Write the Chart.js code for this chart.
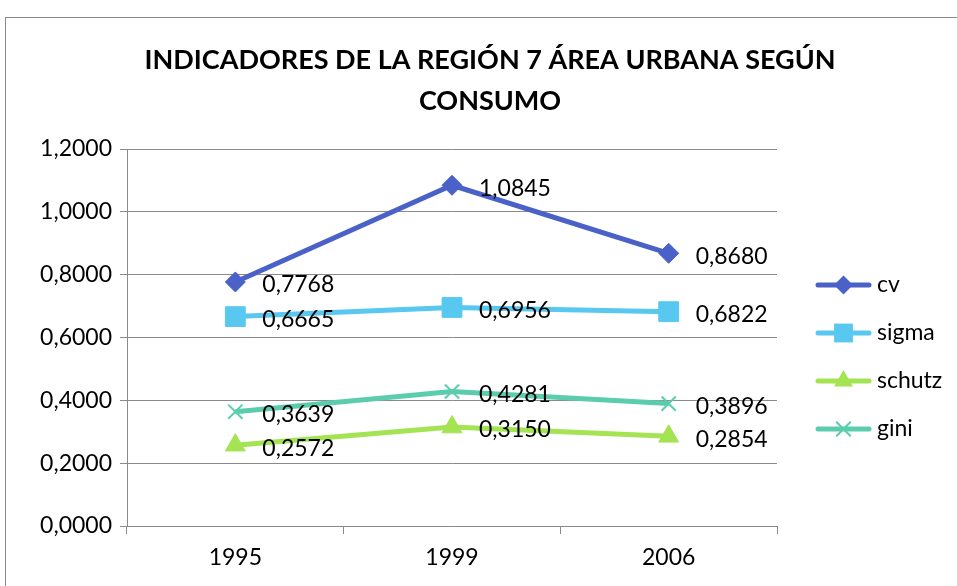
<!DOCTYPE html>
<html>
<head>
<meta charset="utf-8">
<script src="https://cdn.jsdelivr.net/npm/chart.js@4/dist/chart.umd.min.js"></script>
<style>
html,body{margin:0;padding:0;background:#fff;}
#wrap{width:957px;height:586px;position:relative;}
</style>
</head>
<body>
<div id="wrap"><canvas id="c" width="957" height="586"></canvas></div>
<script>
const categories = ['1995', '1999', '2006'];
const cv = [0.7768, 1.0845, 0.8680];
const sigma = [0.6665, 0.6956, 0.6822];
const schutz = [0.2572, 0.3150, 0.2854];
const gini = [0.3639, 0.4281, 0.3896];
const seriesNames = ['cv', 'sigma', 'schutz', 'gini'];
const titleLines = ['INDICADORES DE LA REGIÓN 7 ÁREA URBANA SEGÚN', 'CONSUMO'];

const FONT = 'Lato, "Liberation Sans", sans-serif';
const colors = ['#4A62C8', '#58C8F0', '#A4E352', '#5BCDAE'];
const styles = ['rectRot', 'rect', 'triangle', 'crossRot'];
const radii = [10, 14, 11.5, 10];

function fmt(v){ return v.toFixed(4).replace('.', ','); }

function drawMarker(ctx, style, x, y, r, color){
  ctx.save();
  ctx.fillStyle = color; ctx.strokeStyle = color; ctx.lineWidth = 2;
  ctx.beginPath();
  if (style === 'rectRot'){
    ctx.moveTo(x, y - r); ctx.lineTo(x + r, y); ctx.lineTo(x, y + r); ctx.lineTo(x - r, y); ctx.closePath(); ctx.fill();
  } else if (style === 'rect'){
    const h = r * Math.SQRT1_2; ctx.rect(x - h, y - h, 2*h, 2*h); ctx.fill();
  } else if (style === 'triangle'){
    ctx.moveTo(x, y - r); ctx.lineTo(x + r*Math.sin(Math.PI/3), y + r*0.5); ctx.lineTo(x - r*Math.sin(Math.PI/3), y + r*0.5); ctx.closePath(); ctx.fill();
  } else {
    const d = r * Math.SQRT1_2;
    ctx.moveTo(x - d, y - d); ctx.lineTo(x + d, y + d); ctx.moveTo(x + d, y - d); ctx.lineTo(x - d, y + d); ctx.stroke();
  }
  ctx.restore();
}

const deco = {
  id: 'deco',
  beforeDraw(chart){
    const ctx = chart.ctx;
    ctx.save();
    ctx.fillStyle = '#fff'; ctx.fillRect(0, 0, chart.width, chart.height);
    ctx.strokeStyle = '#8a8a8a'; ctx.lineWidth = 1;
    ctx.strokeRect(5.5, 17.5, chart.width + 10, chart.height + 10);
    ctx.fillStyle = '#000';
    ctx.font = 'bold 27px ' + FONT;
    ctx.textAlign = 'center'; ctx.textBaseline = 'middle';
    ctx.fillText(titleLines[0], 490, 60);
    ctx.fillText(titleLines[1], 490, 101);
    ctx.restore();
  },
  afterDatasetsDraw(chart){
    const ctx = chart.ctx;
    ctx.save();
    ctx.font = '23px ' + FONT;
    ctx.fillStyle = '#000'; ctx.textAlign = 'left'; ctx.textBaseline = 'middle';
    chart.data.datasets.forEach((ds, i) => {
      chart.getDatasetMeta(i).data.forEach((pt, j) => {
        ctx.fillText(fmt(ds.data[j]), pt.x + 27, pt.y + 3);
      });
    });
    // legend
    const rows = [285, 333, 381, 429];
    ctx.font = '23px ' + FONT;
    chart.data.datasets.forEach((ds, i) => {
      const y = rows[i];
      ctx.strokeStyle = colors[i]; ctx.lineWidth = 5; ctx.lineCap = 'round';
      ctx.beginPath(); ctx.moveTo(818, y); ctx.lineTo(869, y); ctx.stroke();
      drawMarker(ctx, styles[i], 843.5, y, radii[i] * 0.95, colors[i]);
      ctx.fillStyle = '#000';
      ctx.fillText(seriesNames[i], 877, y);
    });
    ctx.restore();
  }
};

const allSeries = [cv, sigma, schutz, gini];
new Chart(document.getElementById('c'), {
  type: 'line',
  data: {
    labels: categories,
    datasets: allSeries.map((d, i) => ({
      label: seriesNames[i],
      data: d,
      borderColor: colors[i],
      backgroundColor: colors[i],
      borderWidth: 5,
      pointStyle: styles[i],
      pointRadius: radii[i],
      pointHoverRadius: radii[i],
      pointBorderWidth: i === 3 ? 2 : 1,
      pointBorderColor: colors[i],
      pointBackgroundColor: colors[i],
      tension: 0
    }))
  },
  options: {
    responsive: false,
    animation: false,
    events: [],
    layout: { padding: { left: 5, right: 180, top: 149, bottom: 0 } },
    plugins: { legend: { display: false }, title: { display: false }, tooltip: { enabled: false } },
    scales: {
      x: {
        offset: true,
        grid: { display: true, drawOnChartArea: false, offset: true, tickLength: 8, color: '#8a8a8a' },
        border: { display: true, color: '#8a8a8a', width: 1 },
        ticks: { color: '#000', font: { family: FONT, size: 23 }, padding: 10 },
        afterFit(s){ s.height = 60; }
      },
      y: {
        min: 0, max: 1.2,
        ticks: { stepSize: 0.2, color: '#000', font: { family: FONT, size: 23 }, padding: 8, callback: v => fmt(v) },
        grid: { color: '#8a8a8a', tickLength: 7 },
        border: { display: true, color: '#8a8a8a', width: 1 },
        afterFit(s){ s.width = 122; }
      }
    }
  },
  plugins: [deco]
});
</script>
</body>
</html>
